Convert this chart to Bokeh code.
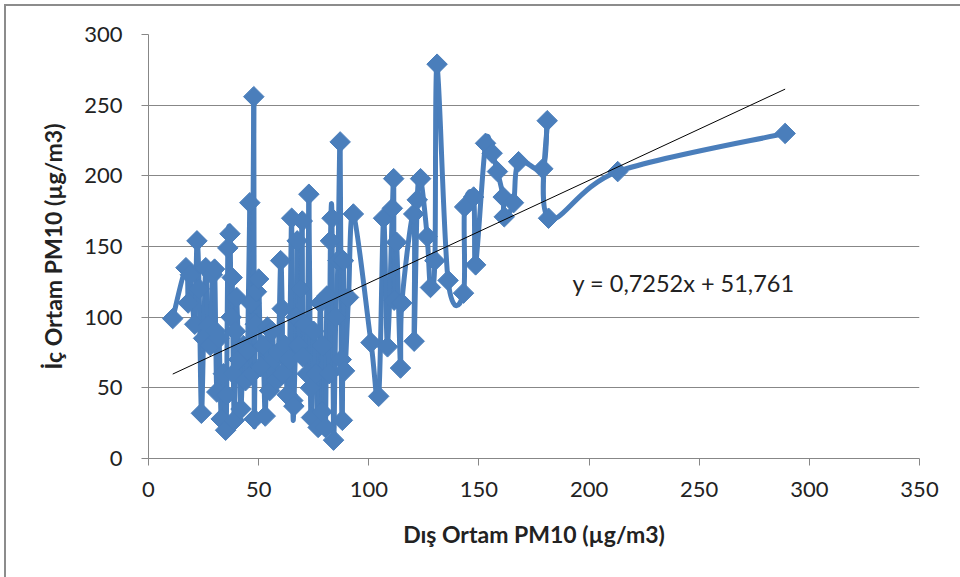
import numpy as np
from bokeh.plotting import figure
from bokeh.models import ColumnDataSource, Range1d, FixedTicker, Label
from bokeh.embed import file_html
from bokeh.resources import INLINE

# Outdoor (x) and indoor (y) PM10 measurements, ordered as plotted
dis_ortam = [11, 17, 18, 19, 21, 22, 23, 24, 25, 26, 27, 28, 29, 30, 30.5, 31, 32, 33, 34, 35,
             35.5, 36, 37, 37.5, 38, 38.5, 39, 39.5, 40, 41, 42, 43, 44, 45, 46, 46.5, 47, 47.8, 48, 48.5,
             49, 50, 51, 52, 53, 54, 55, 56, 57, 58, 59, 60, 60.7, 61, 62, 63, 64, 65, 65.5, 66,
             67, 67.5, 68, 69, 69.8, 70, 71, 72, 72.8, 73.5, 74, 75, 76, 77, 78, 78.8, 79, 80.3, 81, 82,
             82.6, 83.3, 84, 85, 86, 87, 87.5, 88, 88.5, 89, 90.8, 93, 101, 104.5, 106.7, 108.5, 110.7, 111.3, 111.5, 112.6,
             114.4, 115, 120.4, 120.6, 122, 123.5, 126.5, 128, 130, 131, 136, 143, 143.5, 147.6, 148.5, 153, 156, 158.4, 161, 161.5,
             165.7, 168, 179, 181, 181.6, 213, 289]
ic_ortam = [99, 135, 110, 130, 95, 154, 120, 32, 85, 135, 94, 80, 130, 134, 90, 47, 85, 28, 60, 20,
            45, 149, 159, 100, 128, 60, 27, 90, 114, 70, 35, 80, 55, 76, 181, 110, 60, 256, 28, 95,
            118, 127, 65, 80, 30, 93, 48, 90, 70, 55, 75, 140, 106, 60, 80, 45, 70, 170, 41, 37,
            100, 154, 80, 120, 168, 72, 95, 60, 187, 50, 29, 90, 60, 22, 110, 33, 80, 22, 115, 60,
            154, 170, 13, 100, 140, 224, 70, 27, 140, 62, 114, 173, 82, 44, 170, 79, 177, 198, 112, 153,
            64, 110, 173, 83, 183, 198, 157, 121, 140, 279, 126, 117, 178, 185, 137, 223, 216, 203, 185, 171,
            181, 210, 205, 239, 170, 203, 230]

# Linear trend line coefficients
trend_slope = 0.7252
trend_intercept = 51.761
trend_label = "y = 0,7252x + 51,761"

x_ticks = [0, 50, 100, 150, 200, 250, 300, 350]
y_ticks = [0, 50, 100, 150, 200, 250, 300]

x_title = "Dış Ortam PM10 (µg/m3)"
y_title = "İç Ortam PM10 (µg/m3)"

BLUE = "#4A7EBB"
GRID = "#878787"
FONT = "Lato"

p = figure(width=960, height=577, output_backend="svg", toolbar_location=None,
           x_range=Range1d(0, 350), y_range=Range1d(0, 300),
           frame_width=771, frame_height=424,
           min_border_left=148, min_border_top=34, min_border_right=41, min_border_bottom=119)
p.outline_line_color = None
p.background_fill_color = "white"
p.border_fill_alpha = 0.0
p.styles = {
    "background": ("linear-gradient(#8C8C8C,#8C8C8C) 4px 4px / 2px 100% no-repeat, "
                   "linear-gradient(#8C8C8C,#8C8C8C) 4px 4px / 100% 2px no-repeat, white")
}

# Smoothed line (Catmull-Rom style Bezier, like a spreadsheet's smoothed line)
xs = np.array(dis_ortam, dtype=float)
ys = np.array(ic_ortam, dtype=float)
n = len(xs)
xp = np.concatenate([[xs[0]], xs, [xs[-1]]])
yp = np.concatenate([[ys[0]], ys, [ys[-1]]])
i = np.arange(n - 1)
x0 = xs[:-1]; y0 = ys[:-1]; x1 = xs[1:]; y1 = ys[1:]
cx0 = x0 + (xp[i + 2] - xp[i]) / 6.0
cy0 = y0 + (yp[i + 2] - yp[i]) / 6.0
cx1 = x1 - (xp[i + 3] - xp[i + 1]) / 6.0
cy1 = y1 - (yp[i + 3] - yp[i + 1]) / 6.0
bez = ColumnDataSource(dict(x0=x0, y0=y0, x1=x1, y1=y1, cx0=cx0, cy0=cy0, cx1=cx1, cy1=cy1))
p.bezier(x0="x0", y0="y0", x1="x1", y1="y1", cx0="cx0", cy0="cy0", cx1="cx1", cy1="cy1",
         source=bez, line_color=BLUE, line_width=5, line_cap="round")

pts = ColumnDataSource(dict(x=dis_ortam, y=ic_ortam))
p.scatter(x="x", y="y", source=pts, marker="square", size=14.5, angle=np.pi / 4,
          fill_color=BLUE, line_color=BLUE, line_width=1)

# Trend line
tx = np.array([min(dis_ortam), max(dis_ortam)])
p.line(tx, trend_slope * tx + trend_intercept, line_color="black", line_width=1)

p.add_layout(Label(x=192.5, y=124, text=trend_label, text_font=FONT, text_font_size="23.5px",
                   text_color="#222222", text_baseline="middle", text_align="left"))

# Axes
p.xaxis.ticker = FixedTicker(ticks=x_ticks)
p.yaxis.ticker = FixedTicker(ticks=y_ticks)
p.xgrid.grid_line_color = None
p.ygrid.grid_line_color = GRID
p.ygrid.grid_line_width = 1
for ax in (p.xaxis, p.yaxis):
    ax.axis_line_color = GRID
    ax.major_tick_line_color = GRID
    ax.major_tick_out = 7
    ax.major_tick_in = 0
    ax.minor_tick_line_color = None
    ax.major_label_text_font = FONT
    ax.major_label_text_font_size = "22px"
    ax.major_label_text_color = "#222222"
    ax.axis_label_text_font = FONT
    ax.axis_label_text_font_style = "bold"
    ax.axis_label_text_font_size = "23px"
    ax.axis_label_text_color = "#222222"
p.xaxis.axis_label = x_title
p.yaxis.axis_label = y_title
p.xaxis.major_label_standoff = 16
p.yaxis.major_label_standoff = 19
p.xaxis.axis_label_standoff = 20
p.yaxis.axis_label_standoff = 14

open("out.html", "w").write(file_html(p, INLINE))
